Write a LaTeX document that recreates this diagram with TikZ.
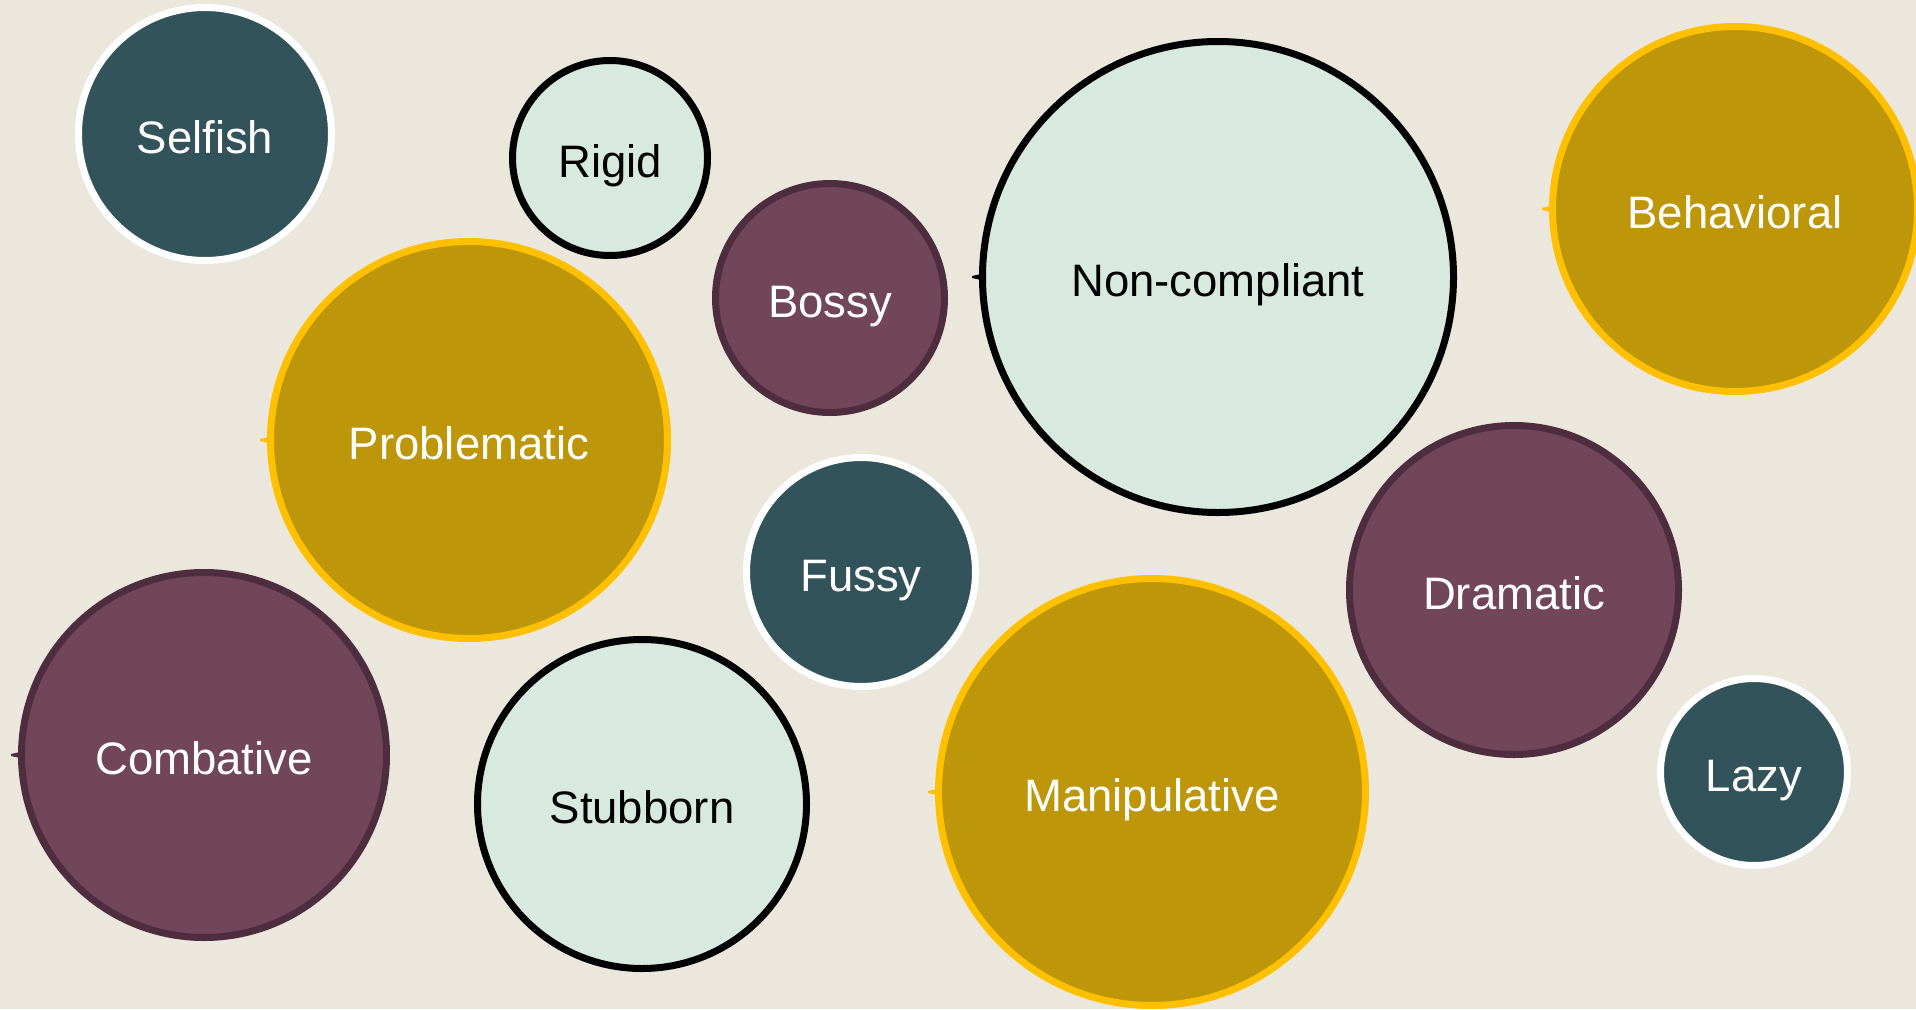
\documentclass[tikz,border=0pt]{standalone}
\usepackage{fontspec}
\setmainfont{Liberation Sans}
\usetikzlibrary{calc}

\definecolor{paper}{HTML}{EBE7DD}
\definecolor{tealfill}{HTML}{33535A}
\definecolor{mintfill}{HTML}{D8EADF}
\definecolor{plumfill}{HTML}{724659}
\definecolor{plumline}{HTML}{4E2D3E}
\definecolor{goldfill}{HTML}{BD9709}
\definecolor{goldline}{HTML}{FFC000}

\begin{document}
\begin{tikzpicture}[
 x=1pt,y=-1pt,
 every node/.style={font=\fontsize{45.5}{50}\selectfont},
 bubble/.style={circle,inner sep=0pt,line width=7pt,minimum size=#1,
   text height=38pt,text depth=0pt},
 tealbub/.style={bubble=#1,fill=tealfill,draw=white,text=white},
 mintbub/.style={bubble=#1,fill=mintfill,draw=black,text=black},
 plumbub/.style={bubble=#1,fill=plumfill,draw=plumline,text=white},
 goldbub/.style={bubble=#1,fill=goldfill,draw=goldline,text=white}
]
 \fill[paper] (0,0) rectangle (1916,1009);
 \useasboundingbox (0,0) rectangle (1916,1009);
 \clip (0,0) rectangle (1916,1009);

 % top row
 \node[tealbub=253pt] (selfish) at (205,134) {Selfish};
 \node[mintbub=195pt] (rigid) at (610,158) {Rigid};
 \node[plumbub=229pt] (bossy) at (830,298) {Bossy};
 \node[mintbub=471pt] (noncompliant) at (1218,277) {Non-compliant};
 \node[goldbub=365pt] (behavioral) at (1735,209) {Behavioral};

 % middle
 \node[goldbub=397pt] (problematic) at (469,440) {Problematic};
 \node[tealbub=229pt] (fussy) at (861,572) {Fussy};
 \node[plumbub=329pt] (dramatic) at (1514,590) {Dramatic};

 % bottom row
 \node[plumbub=365pt] (combative) at (204,755) {Combative};
 \node[mintbub=329pt] (stubborn) at (642,804) {Stubborn};
 \node[goldbub=427pt] (manipulative) at (1152,792) {Manipulative};
 \node[tealbub=187pt] (lazy) at (1754,772) {Lazy};

 % small notches on the left of some bubbles
 \foreach \n/\c in {noncompliant/black,problematic/goldline,combative/plumline,
   behavioral/goldline,manipulative/goldline}
  \fill[\c] ($(\n.west)+(2,-3)$) -- ++(-9,2) -- ++(0,2) -- ++(9,2) -- cycle;
\end{tikzpicture}
\end{document}
